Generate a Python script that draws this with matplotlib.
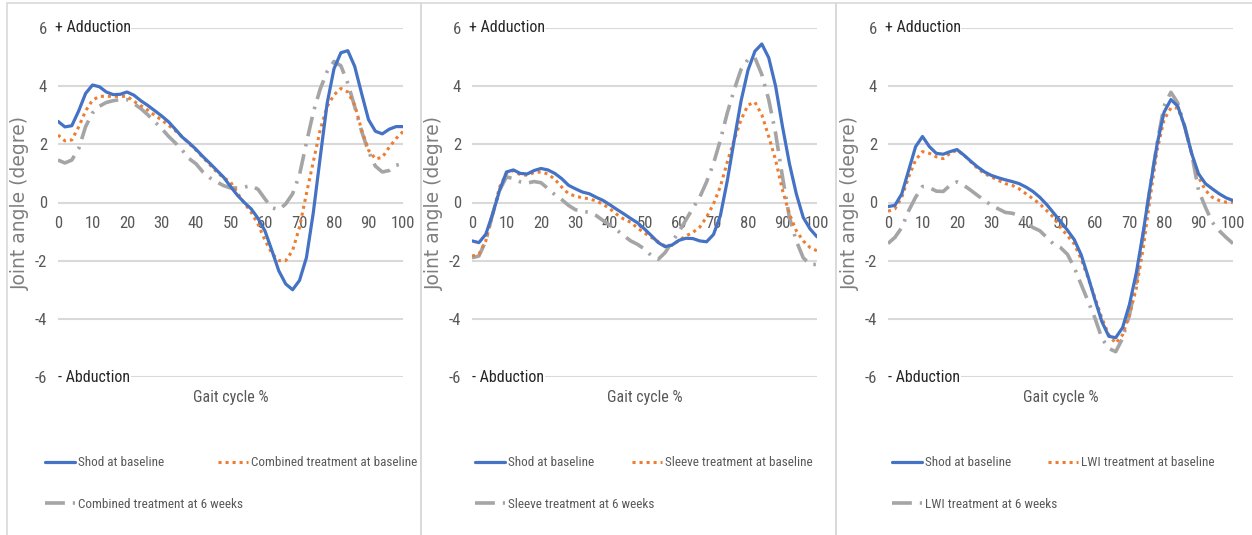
import matplotlib
matplotlib.use("Agg")
import matplotlib.pyplot as plt
from matplotlib.patches import Rectangle
from matplotlib import font_manager
import numpy as np

# Gait cycle (%) sampled every 2 %
gait = np.arange(0, 101, 2)

# Panel 1: combined treatment
shod_1 = [2.79, 2.60, 2.64, 3.15, 3.75, 4.04, 3.98, 3.80, 3.71, 3.72, 3.80, 3.69, 3.50,
          3.34, 3.16, 2.98, 2.78, 2.52, 2.25, 2.05, 1.83, 1.58, 1.35, 1.11, 0.87, 0.55,
          0.25, 0.00, -0.22, -0.55, -0.98, -1.65, -2.35, -2.80, -3.00, -2.68, -1.90,
          -0.35, 1.55, 3.40, 4.60, 5.15, 5.22, 4.68, 3.75, 2.85, 2.45, 2.36, 2.52, 2.61, 2.61]
combined_base = [2.32, 2.12, 2.15, 2.60, 3.15, 3.52, 3.65, 3.65, 3.65, 3.65, 3.65, 3.48, 3.33,
                 3.18, 3.00, 2.84, 2.66, 2.47, 2.26, 2.03, 1.80, 1.55, 1.30, 1.05, 0.85, 0.71,
                 0.32, -0.02, -0.34, -0.75, -1.30, -1.75, -2.00, -2.00, -1.65, -0.85, 0.30,
                 1.40, 2.50, 3.30, 3.70, 3.92, 3.80, 3.35, 2.50, 1.80, 1.50, 1.55, 1.90, 2.20, 2.44]
combined_6wk = [1.46, 1.36, 1.46, 1.85, 2.61, 3.08, 3.31, 3.44, 3.50, 3.54, 3.54, 3.40, 3.23,
                3.02, 2.78, 2.55, 2.28, 2.05, 1.80, 1.51, 1.33, 1.05, 0.85, 0.71, 0.58, 0.50,
                0.50, 0.53, 0.58, 0.45, 0.12, -0.18, -0.25, -0.05, 0.30, 0.95, 2.05, 3.10,
                3.90, 4.50, 4.85, 4.70, 4.10, 3.30, 2.45, 1.75, 1.25, 1.05, 1.10, 1.28, 1.34]

# Panel 2: sleeve treatment
shod_2 = [-1.32, -1.38, -1.09, -0.39, 0.42, 1.05, 1.12, 1.00, 0.98, 1.10, 1.17, 1.12, 1.00,
          0.82, 0.59, 0.47, 0.36, 0.30, 0.18, 0.07, -0.08, -0.24, -0.39, -0.55, -0.70,
          -0.91, -1.14, -1.38, -1.52, -1.46, -1.30, -1.23, -1.24, -1.32, -1.35, -1.10,
          -0.45, 0.75, 2.15, 3.50, 4.55, 5.20, 5.45, 4.98, 4.00, 2.61, 1.34, 0.30, -0.51,
          -0.91, -1.18]
sleeve_base = [-1.84, -1.78, -1.32, -0.39, 0.53, 1.00, 1.10, 0.95, 0.94, 1.03, 1.05, 0.98,
               0.80, 0.53, 0.30, 0.22, 0.16, 0.13, 0.05, -0.06, -0.22, -0.41, -0.57, -0.68,
               -0.88, -1.05, -1.20, -1.35, -1.50, -1.47, -1.30, -1.15, -1.03, -0.85, -0.50,
               -0.05, 0.55, 1.40, 2.15, 2.85, 3.35, 3.45, 3.02, 2.27, 1.46, 0.42, -0.39,
               -0.97, -1.32, -1.55, -1.66]
sleeve_6wk = [-1.90, -1.84, -1.32, -0.39, 0.42, 0.88, 0.82, 0.71, 0.67, 0.72, 0.68, 0.48,
              0.27, 0.10, -0.10, -0.25, -0.30, -0.34, -0.45, -0.62, -0.78, -0.95, -1.14,
              -1.32, -1.44, -1.60, -1.83, -1.95, -1.72, -1.35, -1.00, -0.60, -0.20, 0.18,
              0.71, 1.34, 2.15, 3.08, 3.88, 4.58, 4.92, 4.98, 4.40, 3.54, 2.38, 0.88, -0.51,
              -1.32, -1.90, -2.13, -2.13]

# Panel 3: LWI treatment
shod_3 = [-0.14, -0.10, 0.30, 1.11, 1.92, 2.27, 1.92, 1.69, 1.66, 1.75, 1.82, 1.63, 1.42,
          1.22, 1.05, 0.93, 0.85, 0.78, 0.72, 0.65, 0.53, 0.38, 0.18, -0.07, -0.36, -0.65,
          -0.95, -1.28, -1.80, -2.55, -3.35, -4.10, -4.60, -4.65, -4.30, -3.50, -2.40,
          -1.00, 0.55, 2.00, 3.10, 3.54, 3.31, 2.61, 1.69, 0.99, 0.65, 0.47, 0.30, 0.16, 0.07]
lwi_base = [-0.30, -0.22, 0.18, 0.88, 1.46, 1.75, 1.69, 1.57, 1.51, 1.69, 1.80, 1.63, 1.40,
            1.17, 0.99, 0.88, 0.76, 0.65, 0.59, 0.47, 0.30, 0.13, -0.05, -0.28, -0.51, -0.86,
            -1.14, -1.43, -1.95, -2.59, -3.28, -3.98, -4.55, -4.84, -4.55, -3.86, -2.94,
            -1.55, 0.18, 1.80, 2.84, 3.25, 3.25, 2.61, 1.69, 0.88, 0.42, 0.18, 0.07, 0.01, 0.01]
lwi_6wk = [-1.41, -1.20, -0.86, -0.28, 0.18, 0.55, 0.51, 0.39, 0.38, 0.59, 0.71, 0.59, 0.42,
           0.24, 0.07, -0.10, -0.22, -0.34, -0.37, -0.45, -0.68, -0.86, -0.97, -1.20, -1.43,
           -1.55, -1.78, -2.24, -2.82, -3.40, -3.98, -4.67, -5.02, -5.13, -4.67, -3.86,
           -2.71, -1.09, 0.53, 2.03, 3.31, 3.79, 3.42, 2.61, 1.69, 0.42, -0.16, -0.68,
           -0.97, -1.20, -1.41]

x_ticks = list(range(0, 101, 10))
y_ticks = [-6, -4, -2, 0, 2, 4, 6]

panels = [
    (shod_1, combined_base, combined_6wk, "Combined treatment"),
    (shod_2, sleeve_base, sleeve_6wk, "Sleeve treatment"),
    (shod_3, lwi_base, lwi_6wk, "LWI treatment"),
]

BLUE = "#4472C4"
ORANGE = "#ED7D31"
GRAY = "#A5A5A5"
TXT = "#595959"

# pick the narrowest sans face that is available
installed = {f.name for f in font_manager.fontManager.ttflist}
NARROW = [f for f in ["Roboto Condensed", "Liberation Sans Narrow", "Open Sans Condensed",
                      "Roboto", "DejaVu Sans"] if f in installed] or ["DejaVu Sans"]
is_condensed = NARROW[0] in ("Roboto Condensed", "Liberation Sans Narrow", "Open Sans Condensed")
leg_size = 9.5 if is_condensed else 8.2
tick_size = 12 if is_condensed else 10.5
lab_size = 11.5 if is_condensed else 10.5

W, H = 1252, 535
fig = plt.figure(figsize=(W / 100, H / 100), dpi=100)
fig.patch.set_facecolor("white")

def fx(px):
    return px / W

def fy(py):
    return 1 - py / H

# panel frame left edges, plot-area x-range in pixels
frames = [7, 421, 836]
x0s = [58, 472, 888]
plot_w = 345
y_top, y_bot = 28, 377

# legend layout (pixel positions of each entry's handle start)
legend_pos = [
    [(45, 463), (218, 463), (45, 504)],
    [(475, 463), (632, 463), (475, 504)],
    [(892, 463), (1048, 463), (892, 504)],
]

for i, (shod, base, wk6, name) in enumerate(panels):
    fl = frames[i]
    fr = frames[i + 1] if i + 1 < len(frames) else W + 5
    fig.patches.append(Rectangle((fx(fl), fy(H + 10)), fx(fr - fl), fy(3) - fy(H + 10),
                                 transform=fig.transFigure, facecolor="none",
                                 edgecolor="#D9D9D9", lw=1.2, zorder=0))

    ax = fig.add_axes([fx(x0s[i]), fy(y_bot), fx(plot_w), fy(y_top) - fy(y_bot)])
    ax.set_xlim(0, 100)
    ax.set_ylim(-6, 6)
    ax.set_facecolor("none")
    for s in ax.spines.values():
        s.set_visible(False)
    ax.spines["bottom"].set_position(("data", 0))

    ax.set_yticks(y_ticks)
    ax.set_yticklabels([str(v) for v in y_ticks])
    ax.set_xticks(x_ticks)
    ax.set_xticklabels([str(v) for v in x_ticks])
    ax.tick_params(axis="both", length=0, labelcolor=TXT, labelsize=tick_size)
    ax.tick_params(axis="x", pad=10)
    ax.tick_params(axis="y", pad=8)
    for lab in ax.get_xticklabels() + ax.get_yticklabels():
        lab.set_family(NARROW)

    ax.grid(axis="y", color="#D9D9D9", lw=1.5, zorder=0)
    ax.grid(axis="x", visible=False)
    ax.set_axisbelow(True)

    l1, = ax.plot(gait, shod, color=BLUE, lw=2.3, zorder=5, solid_capstyle="round",
                  label="Shod at baseline")
    l2, = ax.plot(gait, base, color=ORANGE, lw=2.2, zorder=4, dashes=(1.0, 1.3),
                  label=f"{name} at baseline")
    l3, = ax.plot(gait, wk6, color=GRAY, lw=2.6, zorder=3, dashes=(5.5, 2.2, 0.7, 2.2),
                  label=f"{name} at 6 weeks")

    ax.text(-1, 6, "+ Adduction", ha="left", va="center", fontsize=lab_size, color="#262626",
            family=NARROW, zorder=6,
            bbox=dict(facecolor="white", edgecolor="none", pad=0.5))
    ax.text(0, -6, "- Abduction", ha="left", va="center", fontsize=lab_size, color="#262626",
            family=NARROW, zorder=6,
            bbox=dict(facecolor="white", edgecolor="none", pad=0.5))

    ax.annotate("Gait cycle %", xy=(50, -6), xytext=(0, -15), textcoords="offset points",
                ha="center", va="center", fontsize=lab_size, color=TXT, family=NARROW)

    ax.set_ylabel("Joint angle (degre)", fontsize=13.5, color="#7F7F7F")
    ax.yaxis.set_label_coords(-28 / plot_w, 0.5)

    for (px, py), h in zip(legend_pos[i], [l1, l2, l3]):
        leg = fig.legend(handles=[h], loc="center left",
                         bbox_to_anchor=(fx(px), fy(py)), bbox_transform=fig.transFigure,
                         frameon=False, borderpad=0, borderaxespad=0,
                         handlelength=30 / (leg_size * 100 / 72), handletextpad=0.25,
                         prop={"family": NARROW, "size": leg_size})
        for t in leg.get_texts():
            t.set_color(TXT)

fig.savefig("out.png", dpi=100, facecolor="white")
